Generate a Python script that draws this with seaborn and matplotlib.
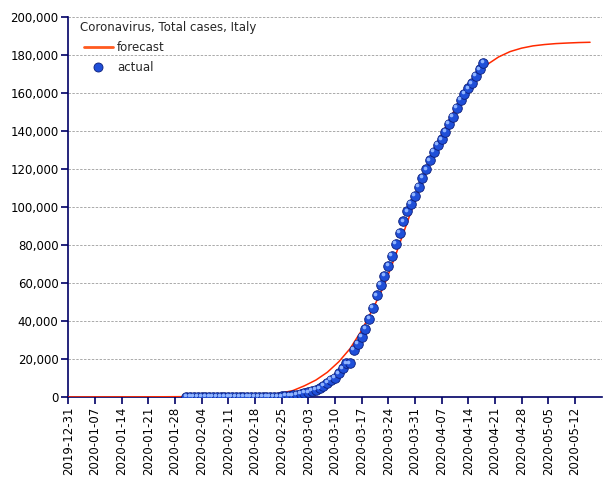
import pandas as pd
import matplotlib
matplotlib.use("Agg")
import matplotlib.pyplot as plt
import matplotlib.transforms as mtransforms
from matplotlib.lines import Line2D
from matplotlib.ticker import FuncFormatter, MultipleLocator
import seaborn as sns

# actual total cases, one point per day from 2020-01-31 to 2020-04-18
actual_start = "2020-01-31"
actual_cases = [
    2, 2, 2, 2, 2, 2, 2, 3, 3, 3, 3, 3, 3, 3, 3, 3, 3, 3, 3, 3, 3,
    20, 62, 155, 229, 322, 453, 655, 888, 1128,
    1694, 2036, 2502, 3089, 3858, 4636, 5883, 7375, 9172, 10149,
    12462, 15113, 17660, 17750, 24747, 27980, 31506, 35713, 41035, 47021,
    53578, 59138, 63927, 69176, 74386, 80589, 86498, 92472, 97689, 101739,
    105792, 110574, 115242, 119827, 124632, 128948, 132547, 135586, 139422, 143626,
    147577, 152271, 156363, 159516, 162488, 165155, 168941, 172434, 175925,
]

# forecast curve
forecast_dates = [
    "2019-12-31", "2020-01-20", "2020-02-09", "2020-02-19", "2020-02-22",
    "2020-02-25", "2020-02-28", "2020-03-02", "2020-03-05", "2020-03-08",
    "2020-03-11", "2020-03-14", "2020-03-17", "2020-03-20", "2020-03-23",
    "2020-03-26", "2020-03-29", "2020-04-01", "2020-04-04", "2020-04-07",
    "2020-04-10", "2020-04-13", "2020-04-16", "2020-04-19", "2020-04-22",
    "2020-04-25", "2020-04-28", "2020-05-01", "2020-05-04", "2020-05-07",
    "2020-05-10", "2020-05-13", "2020-05-16",
]
forecast_cases = [
    0, 60, 300, 900, 1300,
    2100, 3400, 5900, 8900, 13000,
    18500, 25500, 35000, 46500, 59000,
    75000, 92000, 108500, 124000, 138000,
    149500, 160000, 168500, 175000, 179000,
    181800, 183600, 184800, 185500, 186000,
    186300, 186550, 186700,
]

tick_dates = pd.date_range("2019-12-31", "2020-05-12", freq="7D")

actual = pd.DataFrame({
    "date": pd.date_range(actual_start, periods=len(actual_cases), freq="D"),
    "cases": actual_cases,
})
forecast = pd.DataFrame({"date": pd.to_datetime(forecast_dates), "cases": forecast_cases})

sns.set_theme(style="white")
plt.rcParams["font.family"] = ["DejaVu Sans"]

navy = "#000066"
fig = plt.figure(figsize=(6.05, 4.8), dpi=100)
ax = fig.add_axes([68.3 / 605, 1 - 397 / 480, (601.5 - 68.3) / 605, (397 - 17) / 480])

sns.lineplot(data=forecast, x="date", y="cases", ax=ax, color="#ff2a00", linewidth=1.1, zorder=3)

sns.scatterplot(data=actual, x="date", y="cases", ax=ax, s=48, color="#1f4fd8",
                edgecolor="#0b1d7a", linewidth=0.6, zorder=4)
# small highlight to give the sphere look
hl = mtransforms.offset_copy(ax.transData, fig=fig, x=-1.2, y=1.2, units="points")
ax.scatter(actual["date"], actual["cases"], s=7, color="#8fb4ff", linewidth=0,
           transform=hl, zorder=5)

ax.set_xlim(pd.Timestamp("2019-12-31"), pd.Timestamp("2020-05-19"))
ax.set_ylim(0, 200000)
ax.yaxis.set_major_locator(MultipleLocator(20000))
ax.yaxis.set_major_formatter(FuncFormatter(lambda v, p: f"{int(v):,}"))
ax.set_xticks(tick_dates)
ax.set_xticklabels([d.strftime("%Y-%m-%d") for d in tick_dates], rotation=90)

for yv in range(20000, 200001, 20000):
    ax.axhline(yv, color="#aaaaaa", linewidth=0.7, linestyle=(0, (2.5, 1.5)), zorder=1)

sns.despine(ax=ax)
for side in ["left", "bottom"]:
    ax.spines[side].set_color(navy)
    ax.spines[side].set_linewidth(1.2)
ax.tick_params(axis="both", colors=navy, labelcolor="black", labelsize=8.5,
               length=5, width=1.2, direction="out", bottom=True, left=True, pad=2)
ax.set_xlabel("")
ax.set_ylabel("")

ax.text((80 - 68.3) / 533.2, (397 - 27) / 380, "Coronavirus, Total cases, Italy",
        transform=ax.transAxes, fontsize=8.5, va="center", ha="left")
handles = [
    Line2D([], [], color="#ff5a1f", linewidth=2),
    Line2D([], [], marker="o", linestyle="", markersize=6.5, markerfacecolor="#1f4fd8",
           markeredgecolor="#0b1d7a", markeredgewidth=0.6),
]
ax.legend(handles, ["forecast", "actual"], loc="upper left",
          bbox_to_anchor=((84 - 68.3) / 533.2, (397 - 41) / 380), frameon=False,
          fontsize=8.5, handlelength=2.45, handletextpad=0.35, labelspacing=0.6,
          borderpad=0, borderaxespad=0)

fig.savefig("out.png", dpi=100)
